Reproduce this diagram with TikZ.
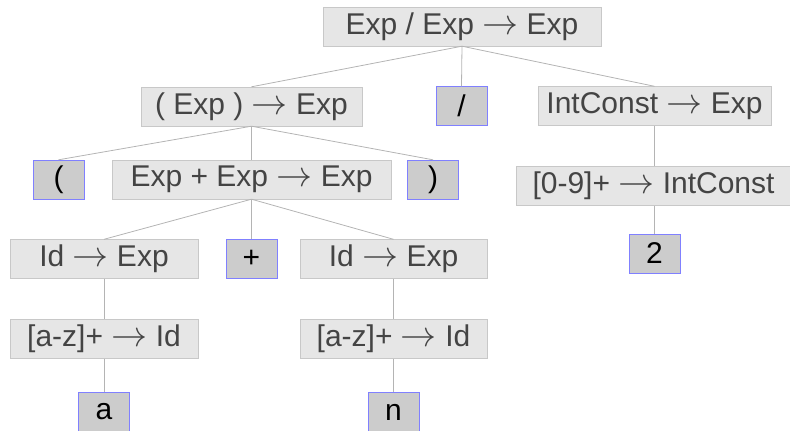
\documentclass[tikz,border=0pt]{standalone}
\usepackage{fontspec}
\setmainfont{Liberation Sans}
\definecolor{ruleFill}{HTML}{E6E6E6}
\definecolor{ruleLine}{HTML}{C8C8C8}
\definecolor{ruleText}{HTML}{444444}
\definecolor{tokFill}{HTML}{CCCCCC}
\definecolor{tokLine}{HTML}{8080FF}
\definecolor{edgeLine}{HTML}{B4B4B4}
\newcommand{\yields}{ \resizebox{36pt}{!}{$\rightarrow$} }
\begin{document}
\begin{tikzpicture}[x=1pt, y=-1pt,
		rule/.style = {draw = ruleLine, fill = ruleFill, text = ruleText, minimum height = 39pt, inner sep = 0pt, font = \fontsize{30}{33}\selectfont},
		tok/.style = {draw = tokLine, fill = tokFill, text = black, minimum height = 39pt, minimum width = 51pt, inner sep = 0pt, font = \fontsize{30}{33}\selectfont},
		edge/.style = {draw = edgeLine, line width = 0.8pt}]
		\useasboundingbox (0, 0) rectangle (790, 431);
		% rules
		\node[rule, minimum width = 278pt] (root) at (462, 26.5) {Exp / Exp\yields Exp};
		\node[rule, minimum width = 221pt] (paren) at (251.5, 106.5) {( Exp )\yields Exp};
		\node[tok] (slash) at (461.5, 106) {/};
		\node[rule, minimum width = 233pt] (intc) at (654.5, 106) {IntConst\yields Exp};
		\node[tok] (lpar) at (58.5, 179.5) {(};
		\node[rule, minimum width = 279pt] (sum) at (251.5, 179.5) {Exp + Exp\yields Exp};
		\node[tok] (rpar) at (433, 179.5) {)};
		\node[rule, minimum width = 274pt] (digits) at (653.5, 186) {[0-9]+\yields IntConst};
		\node[tok] (two) at (654.5, 253.5) {2};
		\node[rule, minimum width = 188pt] (idl) at (104, 259) {Id\yields Exp};
		\node[tok] (plus) at (251.5, 259) {+};
		\node[rule, minimum width = 187pt] (idr) at (393.5, 259) {Id\yields Exp};
		\node[rule, minimum width = 188pt] (azl) at (104, 339) {[a-z]+\yields Id};
		\node[rule, minimum width = 187pt] (azr) at (393.5, 339) {[a-z]+\yields Id};
		\node[tok] (a) at (104, 412) {a};
		\node[tok] (n) at (393.5, 412) {n};
		% edges
		\draw[edge] (root.south) -- (paren.north);
		\draw[edge] (root.south) -- (slash.north);
		\draw[edge] (root.south) -- (intc.north);
		\draw[edge] (paren.south) -- (lpar.north);
		\draw[edge] (paren.south) -- (sum.north);
		\draw[edge] (paren.south) -- (rpar.north);
		\draw[edge] (sum.south) -- (idl.north);
		\draw[edge] (sum.south) -- (plus.north);
		\draw[edge] (sum.south) -- (idr.north);
		\draw[edge] (intc.south) -- (intc.south |- digits.north);
		\draw[edge] (two.north |- digits.south) -- (two.north);
		\draw[edge] (idl.south) -- (azl.north);
		\draw[edge] (azl.south) -- (a.north);
		\draw[edge] (idr.south) -- (azr.north);
		\draw[edge] (azr.south) -- (n.north);
	\end{tikzpicture}
\end{document}
